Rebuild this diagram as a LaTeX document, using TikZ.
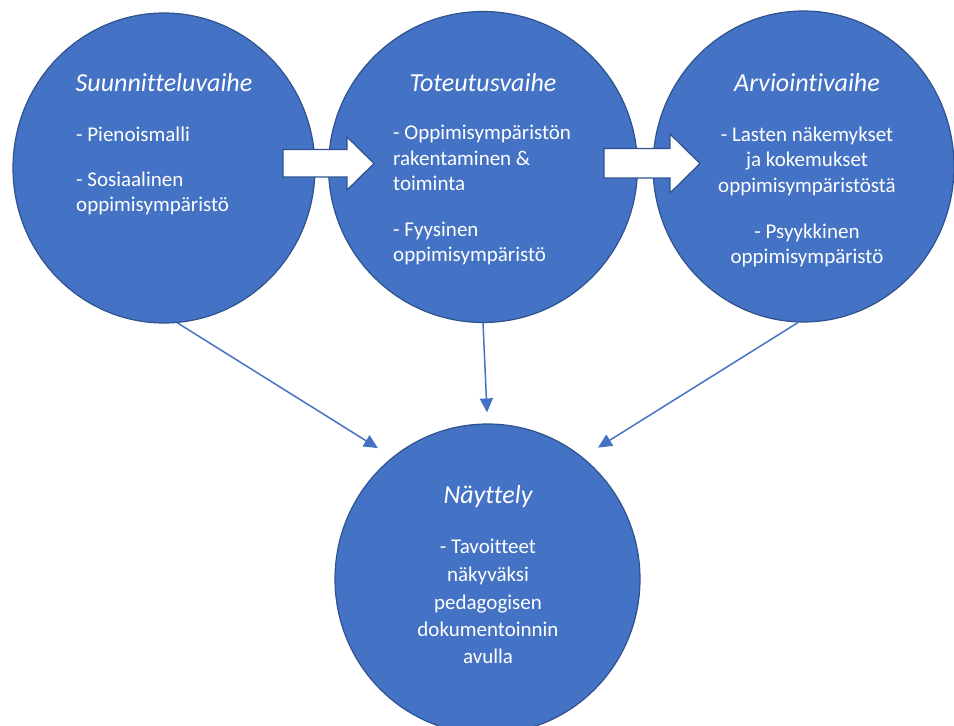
\documentclass[tikz,border=0pt]{standalone}
\usepackage{fontspec}
\setmainfont[Ligatures=NoCommon]{Carlito}
\usetikzlibrary{shapes.geometric,arrows.meta}
\definecolor{phasefill}{HTML}{4472C4}
\definecolor{phaseedge}{HTML}{2F528F}
\tikzset{
  phase/.style={ellipse,draw=phaseedge,fill=phasefill,line width=1.2pt,inner sep=0pt},
  ttl/.style={text=white,inner sep=0pt,font=\fontsize{26}{30}\selectfont\itshape,text height=0.7em,text depth=0.2em,yshift=-4pt},
  bodytxt/.style={text=white,inner sep=0pt,font=\fontsize{21}{25}\selectfont,text height=0.7em,text depth=0.2em,yshift=-4pt},
  conn/.style={draw=phasefill,line width=1.5pt,-{Triangle[length=14pt,width=13pt]}},
  blockarrow/.style={draw=phaseedge,fill=white,line width=1.2pt,line join=miter}
}
\begin{document}
\begin{tikzpicture}[x=1pt,y=-1pt]
\useasboundingbox (0,0) rectangle (954,726);
% circles
\node[phase,minimum width=302pt,minimum height=310pt] (L) at (164,168) {};
\node[phase,minimum width=309pt,minimum height=311pt] (M) at (483,167) {};
\node[phase,minimum width=301pt,minimum height=311pt] (R) at (803.5,166.5) {};
\node[phase,minimum width=305pt,minimum height=310pt] (B) at (487.5,579) {};
% block arrows
\draw[blockarrow] (283,149.5) -- (347,149.5) -- (347,137) -- (374,163.5) -- (347,190) -- (347,177) -- (283,177) -- cycle;
\draw[blockarrow] (604,148.5) -- (670,148.5) -- (670,134) -- (700,163.5) -- (670,193) -- (670,178) -- (604,178) -- cycle;
% connectors
\draw[conn,shorten >=17pt] (L.-85) -- (B.128);
\draw[conn,shorten >=11pt] (M.-90) -- (B.90);
\draw[conn,shorten >=18pt] (R.-92) -- (B.52);
% left texts
\node[ttl] (Lt) at (164,85) {Suunnitteluvaihe};
\node[bodytxt,anchor=west] (L1) at (76,135) {- Pienoismalli};
\node[bodytxt,anchor=west] (L2) at (76,180) {- Sosiaalinen};
\node[bodytxt,anchor=west] (L3) at (76,205) {oppimisympäristö};
% middle texts
\node[ttl] (Mt) at (483,85) {Toteutusvaihe};
\node[bodytxt,anchor=west] (M1) at (393,133) {- Oppimisympäristön};
\node[bodytxt,anchor=west] (M2) at (393,159) {rakentaminen \&};
\node[bodytxt,anchor=west] (M3) at (393,184) {toiminta};
\node[bodytxt,anchor=west] (M4) at (393,230) {- Fyysinen};
\node[bodytxt,anchor=west] (M5) at (393,255) {oppimisympäristö};
% right texts
\node[ttl] (Rt) at (807,85) {Arviointivaihe};
\node[bodytxt] (R1) at (807,135) {- Lasten näkemykset};
\node[bodytxt] (R2) at (807,160) {ja kokemukset};
\node[bodytxt] (R3) at (807,186) {oppimisympäristöstä};
\node[bodytxt] (R4) at (807,232) {- Psyykkinen};
\node[bodytxt] (R5) at (807,257) {oppimisympäristö};
% bottom texts
\node[ttl] (Bt) at (488,497) {Näyttely};
\node[bodytxt] (B1) at (488,547) {- Tavoitteet};
\node[bodytxt] (B2) at (488,575) {näkyväksi};
\node[bodytxt] (B3) at (488,603) {pedagogisen};
\node[bodytxt] (B4) at (488,630) {dokumentoinnin};
\node[bodytxt] (B5) at (488,657) {avulla};
\end{tikzpicture}
\end{document}
